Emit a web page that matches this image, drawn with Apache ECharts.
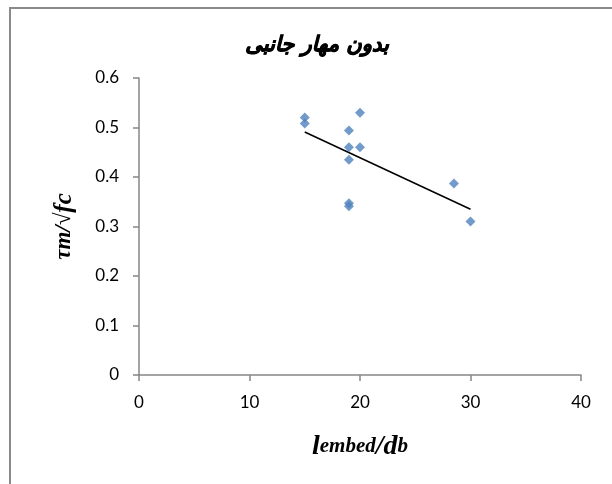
<!DOCTYPE html>
<html>
<head>
<meta charset="utf-8">
<script src="https://cdn.jsdelivr.net/npm/echarts@6/dist/echarts.min.js"></script>
<style>
html,body{margin:0;padding:0;background:#fff;}
#chart{width:612px;height:484px;}
</style>
</head>
<body>
<div id="chart"></div>
<script>
// Data
var titleText = 'بدون مهار جانبی';
var xValues = [15, 15, 19, 19, 20, 20, 19, 19, 19, 28.5, 30];
var yValues = [0.520, 0.508, 0.494, 0.460, 0.530, 0.460, 0.435, 0.347, 0.341, 0.387, 0.310];
var xTicks = [0, 10, 20, 30, 40];
var yTicks = [0, 0.1, 0.2, 0.3, 0.4, 0.5, 0.6];

// Linear trendline (least squares) computed from the data
var n = xValues.length, sx = 0, sy = 0, sxx = 0, sxy = 0;
for (var i = 0; i < n; i++) {
  sx += xValues[i]; sy += yValues[i];
  sxx += xValues[i] * xValues[i]; sxy += xValues[i] * yValues[i];
}
var slope = (n * sxy - sx * sy) / (n * sxx - sx * sx);
var intercept = (sy - slope * sx) / n;
var xMin = Math.min.apply(null, xValues), xMax = Math.max.apply(null, xValues);
var trend = [[xMin, intercept + slope * xMin], [xMax, intercept + slope * xMax]];

var points = xValues.map(function (x, i) { return [x, yValues[i]]; });

var chart = echarts.init(document.getElementById('chart'), null, {renderer: 'canvas'});
var axisColor = '#868686';
chart.setOption({
  backgroundColor: '#fff',
  animation: false,
  title: {
    text: titleText,
    left: 312, top: 30, textAlign: 'center',
    textStyle: {fontFamily: 'DejaVu Sans', fontWeight: 'bold', fontStyle: 'italic', fontSize: 21, color: '#000',
      textBorderColor: '#000', textBorderWidth: 0.8}
  },
  graphic: [{
    type: 'rect', shape: {x: 10, y: 8, width: 640, height: 520},
    style: {fill: 'none', stroke: '#8a8a8a', lineWidth: 2}, silent: true
  }],
  grid: {left: 139, right: 31, top: 78, bottom: 109},
  xAxis: {
    type: 'value', min: xTicks[0], max: xTicks[xTicks.length - 1], interval: 10,
    name: '{b|l}{s|embed}{b|/d}{s|b}', nameLocation: 'middle', nameGap: 58,
    nameTextStyle: {
      rich: {
        b: {fontFamily: 'Liberation Serif', fontWeight: 'bold', fontStyle: 'italic', fontSize: 28, color: '#000'},
        s: {fontFamily: 'Liberation Serif', fontWeight: 'bold', fontStyle: 'italic', fontSize: 21, color: '#000'}
      }
    },
    axisLine: {show: true, lineStyle: {color: axisColor, width: 1.5}},
    axisTick: {show: true, length: 6, inside: false, lineStyle: {color: axisColor, width: 1.5}},
    axisLabel: {fontFamily: 'Lato', fontSize: 17, color: '#000', margin: 19},
    splitLine: {show: false}
  },
  yAxis: {
    type: 'value', min: yTicks[0], max: yTicks[yTicks.length - 1], interval: 0.1,
    name: '{b|τm/√}{f|fc}', nameLocation: 'middle', nameGap: 62, nameRotate: 90,
    nameTextStyle: {
      rich: {
        b: {fontFamily: 'Liberation Serif', fontWeight: 'bold', fontStyle: 'italic', fontSize: 23, color: '#000'},
        f: {fontFamily: 'Liberation Serif', fontWeight: 'bold', fontStyle: 'italic', fontSize: 25, color: '#000'}
      }
    },
    axisLine: {show: true, lineStyle: {color: axisColor, width: 1.5}},
    axisTick: {show: true, length: 6, inside: false, lineStyle: {color: axisColor, width: 1.5}},
    axisLabel: {fontFamily: 'Lato', fontSize: 17, color: '#000', margin: 20,
      formatter: function (v) { return String(Math.round(v * 10) / 10); }},
    splitLine: {show: false}
  },
  series: [
    {
      type: 'scatter', data: points, symbol: 'diamond', symbolSize: 10,
      itemStyle: {color: '#4F81BD'}, z: 3
    },
    {
      type: 'line', data: trend, symbol: 'none',
      lineStyle: {color: '#000', width: 1.5}, z: 2
    }
  ]
});
</script>
</body>
</html>
